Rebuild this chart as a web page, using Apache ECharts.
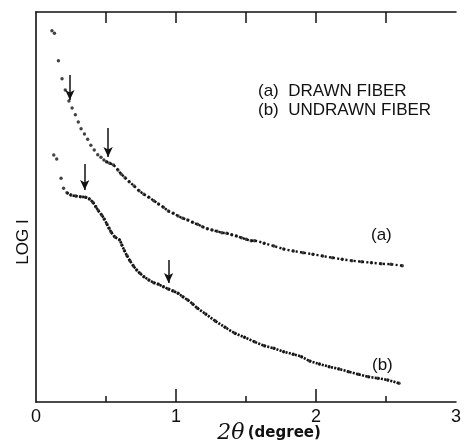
<!DOCTYPE html>
<html>
<head>
<meta charset="utf-8">
<script src="https://cdn.jsdelivr.net/npm/echarts@6/dist/echarts.min.js"></script>
<style>
html,body{margin:0;padding:0;background:#fff;}
#c{width:464px;height:447px;}
</style>
</head>
<body>
<div id="c"></div>
<script>
// 2θ (degree) values and LOG I (arbitrary units)
const xTicks = [0, 1, 2, 3];
const majorTicks = [1, 2];
const minorTicks = [0.5, 1.5, 2.5];
const topTicks = [0.5, 1, 1.5, 2, 2.5];
const seriesNames = ['(a) DRAWN FIBER', '(b) UNDRAWN FIBER'];
const curveLabels = ['(a)', '(b)'];

const drawnX = [0.114,0.132,0.160,0.186,0.209,0.235,0.258,0.281,0.302,0.322,0.346,0.369,0.392,0.416,0.441,0.464,0.485,0.503,0.527,0.554,0.585,0.608,0.636,0.666,0.701,0.736,0.771,0.806,0.841,0.875,0.910,0.945,0.980,1.015,1.049,1.084,1.119,1.154,1.189,1.224,1.258,1.293,1.328,1.363,1.398,1.432,1.467,1.502,1.537,1.560,1.630,1.699,1.769,1.838,1.908,1.978,2.047,2.117,2.187,2.256,2.326,2.396,2.465,2.535,2.616];
const drawnY = [371.3,368.7,341.3,323.3,312,301,294,287.3,280,273.3,268,262.7,256.7,252,247.3,244.7,242,240.3,238.7,237,232,228,224.3,220.3,216,211.3,207.7,204.7,201.3,198,194.7,191,188.7,186,183.7,182,179.7,177.7,175.3,173.3,172,170.7,169.3,168.7,167.3,166,164.3,162.7,161.3,161.3,158.7,156,153,151,149.3,147.7,146,144.3,142.7,141.3,140.3,139.3,138.3,137.7,136.3];

const undrawnX = [0.127,0.148,0.179,0.197,0.221,0.249,0.283,0.318,0.353,0.381,0.406,0.427,0.446,0.469,0.487,0.506,0.522,0.538,0.564,0.597,0.613,0.632,0.650,0.671,0.696,0.719,0.743,0.771,0.806,0.841,0.875,0.910,0.945,0.980,1.015,1.049,1.084,1.119,1.154,1.212,1.281,1.351,1.421,1.490,1.560,1.630,1.699,1.769,1.838,1.896,1.955,2.024,2.094,2.164,2.233,2.303,2.373,2.442,2.512,2.593];
const undrawnY = [247,243,223.7,213.7,209.3,207,206,205.3,204.7,203,199.7,195.3,191.3,187,183,178,173.7,169.7,165,162,157,151.3,146.3,141.3,136,132,128.7,125.3,122,119.3,117.7,115.3,113,111,108.7,105.3,102,98,93.7,88,81,74.7,68.7,64.7,60.3,56.3,53.7,50.3,47.7,45.3,41,38,35.3,33,30.3,27.7,25.3,23.7,22,18.7];

// arrows marking shoulders: [x, yStart, yEnd]
const arrowsDrawn = [[0.242, 327, 302], [0.515, 274, 245]];
const arrowsUndrawn = [[0.348, 238, 212], [0.947, 142, 119]];

const Y_MAX = 390;
const zip = (xs, ys) => xs.map((x, i) => [x, ys[i]]);
const drawn = zip(drawnX, drawnY);
const undrawn = zip(undrawnX, undrawnY);
const denseStartA = 17;
const denseStartB = 4;

function arrowLines(list) {
  return list.map(a => [{coord: [a[0], a[1]]}, {coord: [a[0], a[2]]}]);
}
function tickLines() {
  const out = [];
  majorTicks.forEach(t => out.push([{coord: [t, 0]}, {coord: [t, 13]}]));
  minorTicks.forEach(t => out.push([{coord: [t, 0]}, {coord: [t, 6]}]));
  topTicks.forEach(t => out.push([{coord: [t, Y_MAX]}, {coord: [t, Y_MAX - 11]}]));
  return out;
}

const chart = echarts.init(document.getElementById('c'));
const FONT = 'Liberation Sans';
chart.setOption({
  animation: false,
  backgroundColor: '#fff',
  grid: {left: 36, right: -3, top: 12, bottom: 45},
  xAxis: [{
    type: 'value', min: 0, max: 3, interval: 1, position: 'bottom',
    axisLine: {show: true, onZero: false, lineStyle: {color: '#111', width: 1.6}},
    axisTick: {show: false},
    axisLabel: {color: '#111', fontSize: 18, fontFamily: FONT, margin: 6, showMaxLabel: true},
    splitLine: {show: false}
  }, {
    type: 'value', min: 0, max: 3, interval: 0.5, position: 'top',
    axisLine: {show: true, onZero: false, lineStyle: {color: '#111', width: 1.6}},
    axisTick: {show: false},
    axisLabel: {show: false},
    splitLine: {show: false}
  }],
  yAxis: {
    type: 'value', min: 0, max: Y_MAX,
    axisLine: {show: true, onZero: false, lineStyle: {color: '#111', width: 1.6}},
    axisTick: {show: false}, axisLabel: {show: false}, splitLine: {show: false}
  },
  series: [
    {
      name: 'ticks', type: 'scatter', data: [], silent: true,
      markLine: {
        silent: true, symbol: ['none', 'none'], label: {show: false},
        lineStyle: {color: '#111', width: 1.5, type: 'solid'},
        data: tickLines()
      }
    },
    {
      name: seriesNames[0], type: 'scatter', data: drawn, symbolSize: 3.4,
      itemStyle: {color: '#111'},
      markLine: {
        silent: true, symbol: ['none', 'arrow'], symbolSize: [7, 10],
        label: {show: false},
        lineStyle: {color: '#111', width: 1.5, type: 'solid'},
        data: arrowLines(arrowsDrawn)
      }
    },
    {
      name: seriesNames[0] + ' line', type: 'line', data: drawn.slice(denseStartA),
      showSymbol: false, smooth: 0.3,
      lineStyle: {color: '#111', width: 2.4, type: [2, 2.2]}
    },
    {
      name: seriesNames[1], type: 'scatter', data: undrawn, symbolSize: 3.4,
      itemStyle: {color: '#111'},
      markLine: {
        silent: true, symbol: ['none', 'arrow'], symbolSize: [7, 10],
        label: {show: false},
        lineStyle: {color: '#111', width: 1.5, type: 'solid'},
        data: arrowLines(arrowsUndrawn)
      }
    },
    {
      name: seriesNames[1] + ' line', type: 'line', data: undrawn.slice(denseStartB),
      showSymbol: false, smooth: 0.3,
      lineStyle: {color: '#111', width: 2.6, type: [2, 1.2]}
    }
  ],
  graphic: [
    {type: 'text', left: 258, top: 83, style: {text: '(a)  DRAWN FIBER', font: '17px "Liberation Sans"', fill: '#111'}},
    {type: 'text', left: 258, top: 102, style: {text: '(b)  UNDRAWN FIBER', font: '17px "Liberation Sans"', fill: '#111'}},
    {type: 'text', left: 371, top: 227, style: {text: curveLabels[0], font: '17px "Liberation Sans"', fill: '#111'}},
    {type: 'text', left: 372, top: 357, style: {text: curveLabels[1], font: '17px "Liberation Sans"', fill: '#111'}},
    {type: 'text', x: 23, y: 242, rotation: Math.PI / 2,
      style: {text: 'LOG I', font: '17px "Liberation Sans"', fill: '#111', align: 'center', verticalAlign: 'middle'}},
    {type: 'text', x: 269, y: 433,
      style: {text: '{t|2θ} {d|(degree)}', align: 'center', verticalAlign: 'middle',
        rich: {t: {font: 'italic 22px "DejaVu Serif"', fill: '#111'}, d: {font: 'bold 15px "DejaVu Sans"', fill: '#111'}}}}
  ]
});
</script>
</body>
</html>
